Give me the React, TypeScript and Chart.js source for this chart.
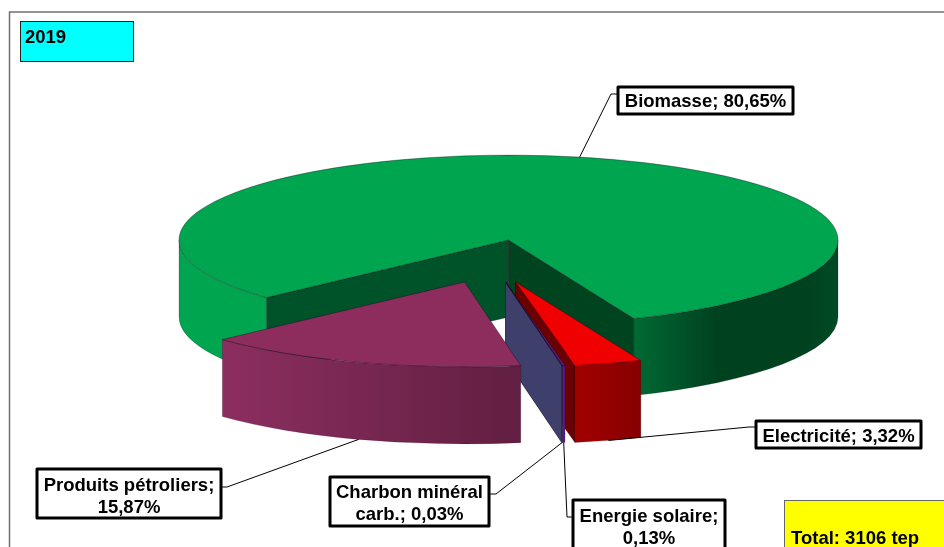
import React, { useEffect, useRef } from "react";
import { Chart, registerables } from "chart.js";

Chart.register(...registerables);

// Final-energy shares for 2019, in percent.
const categories = ["Biomasse", "Electricité", "Energie solaire", "Charbon minéral carb.", "Produits pétroliers"];
const shares = [80.65, 3.32, 0.13, 0.03, 15.87];
const yearLabel = "2019";
const totalLabel = "Total: 3106 tep";

const topColors = ["#00a54f", "#f00000", "#5a1a86", "#3f3f6b", "#8c2d5e"];

// Wall shading, one left-to-right ramp per visible stretch of each slice's rim.
const wallRamps = [
  [
    [[0, "#00a54f"], [1, "#00a54f"]],
    [[0, "#006a33"], [0.4, "#004220"], [0.85, "#004220"], [1, "#004a25"]],
  ],
  [[[0, "#a30000"], [1, "#870000"]]],
  [[[0, "#5a1a86"], [1, "#5a1a86"]]],
  [[[0, "#3f3f6b"], [1, "#3f3f6b"]]],
  [[[0, "#8c2e60"], [1, "#611f41"]]],
];
const startFaceColors = ["#005229", null, null, null, null];
const endFaceColors = ["#00431f", "#6b0000", "#5a1a86", "#3f3f6b", null];

// Projection of the disc and how far each slice is pulled out of it.
const TILT = 0.2576;
const DEPTH = 77;
const RADIUS = 329.5;
const explode = [[0, 0], [7, 42], [-3, 42], [-3, 42], [-44, 42]];

// Callout boxes: rectangle, first baseline, and the leader's knee.
const callouts = [
  { x: 618, y: 87, w: 175, h: 27, base: 107, knee: [[618, 94], [611, 94]], onTop: true },
  { x: 756, y: 421, w: 165, h: 27, base: 442, knee: [[756, 427], [749, 427]] },
  { x: 573, y: 500, w: 152, h: 60, base: 522, knee: [[573, 517], [567, 517]] },
  { x: 330, y: 477, w: 159, h: 49, base: 498, knee: [[489, 494], [496, 494]] },
  { x: 37, y: 469, w: 184, h: 49, base: 491, knee: [[221, 487], [227, 487]] },
];

const FONT = 'bold 18.5px "Liberation Sans", Arial, sans-serif';
const LINE_HEIGHT = 22;

const formatShare = (v: number) => v.toFixed(2).replace(".", ",") + "%";

function wrapText(ctx: CanvasRenderingContext2D, text: string, maxWidth: number) {
  const lines: string[] = [];
  let line = "";
  for (const word of text.split(" ")) {
    const next = line ? line + " " + word : word;
    if (line && ctx.measureText(next).width > maxWidth) {
      lines.push(line);
      line = word;
    } else {
      line = next;
    }
  }
  lines.push(line);
  return lines;
}

function visibleRim(start: number, end: number) {
  const tau = Math.PI * 2;
  const base = Math.floor(start / tau) * tau;
  const a = start - base;
  const b = end - base;
  const out: [number, number][] = [];
  for (const [lo, hi] of [[0, Math.PI], [tau, tau + Math.PI]]) {
    const s = Math.max(a, lo);
    const e = Math.min(b, hi);
    if (e > s) out.push([s, e]);
  }
  return out;
}

// Draws the pie's arcs as an exploded, extruded disc seen at an angle.
const tiltedPie = {
  id: "tiltedPie",
  beforeDatasetDraw(chart: any) {
    const ctx: CanvasRenderingContext2D = chart.ctx;
    const arcs = chart.getDatasetMeta(0).data;
    arcs.forEach((arc: any, i: number) => {
      const { x, y, startAngle, endAngle, outerRadius: r } = arc.getProps(
        ["x", "y", "startAngle", "endAngle", "outerRadius"],
        true
      );
      const cx = x + explode[i][0];
      const cy = y + explode[i][1];
      const ry = r * TILT;

      ctx.save();
      ctx.lineWidth = 0.7;
      ctx.lineJoin = "round";
      ctx.strokeStyle = "rgba(20,0,20,0.5)";

      const cutFace = (angle: number, color: string | null) => {
        if (!color) return;
        const px = cx + r * Math.cos(angle);
        const py = cy + ry * Math.sin(angle);
        ctx.beginPath();
        ctx.moveTo(cx, cy);
        ctx.lineTo(px, py);
        ctx.lineTo(px, py + DEPTH);
        ctx.lineTo(cx, cy + DEPTH);
        ctx.closePath();
        ctx.fillStyle = color;
        ctx.fill();
        ctx.stroke();
      };
      cutFace(startAngle, startFaceColors[i]);
      cutFace(endAngle, endFaceColors[i]);

      visibleRim(startAngle, endAngle).forEach(([a, b], n) => {
        const xa = cx + r * Math.cos(a);
        const xb = cx + r * Math.cos(b);
        const grad = ctx.createLinearGradient(Math.min(xa, xb), 0, Math.max(xa, xb), 0);
        const ramp = wallRamps[i][n] || wallRamps[i][0];
        ramp.forEach(([t, c]: any) => grad.addColorStop(t, c));
        ctx.beginPath();
        ctx.ellipse(cx, cy, r, ry, 0, a, b);
        ctx.ellipse(cx, cy + DEPTH, r, ry, 0, b, a, true);
        ctx.closePath();
        ctx.fillStyle = grad;
        ctx.fill();
        ctx.save();
        ctx.strokeStyle = "rgba(20,0,20,0.25)";
        ctx.stroke();
        ctx.restore();
      });

      // Top face: the library's own arc, flattened onto the tilted plane.
      ctx.save();
      ctx.translate(cx, cy);
      ctx.scale(1, TILT);
      ctx.translate(-x, -y);
      arc.draw(ctx);
      ctx.restore();

      ctx.beginPath();
      ctx.moveTo(cx, cy);
      ctx.ellipse(cx, cy, r, ry, 0, startAngle, endAngle);
      ctx.closePath();
      ctx.stroke();
      ctx.restore();
    });
    return false;
  },
  afterDraw(chart: any) {
    const ctx: CanvasRenderingContext2D = chart.ctx;
    const arcs = chart.getDatasetMeta(0).data;
    ctx.save();

    // Outer frame, cut by the page's right and bottom edges.
    ctx.strokeStyle = "#707070";
    ctx.lineWidth = 1.5;
    ctx.beginPath();
    ctx.moveTo(9.5, 547);
    ctx.lineTo(9.5, 12);
    ctx.lineTo(944, 12);
    ctx.stroke();

    // Year tag.
    ctx.fillStyle = "#00ffff";
    ctx.fillRect(20, 21, 114, 41);
    ctx.strokeStyle = "#222";
    ctx.lineWidth = 1;
    ctx.strokeRect(20.5, 21.5, 113, 40);
    ctx.fillStyle = "#000";
    ctx.font = FONT;
    ctx.textAlign = "left";
    ctx.textBaseline = "alphabetic";
    ctx.fillText(yearLabel, 25, 43);

    // Total tag.
    ctx.fillStyle = "#ffff00";
    ctx.fillRect(784, 500, 162, 50);
    ctx.strokeStyle = "#666";
    ctx.strokeRect(784.5, 500.5, 162, 50);
    ctx.fillStyle = "#000";
    ctx.fillText(totalLabel, 791, 544);

    // Callouts with leaders running to each slice's mid-angle on the rim.
    callouts.forEach((box, i) => {
      const { x, y, startAngle, endAngle, outerRadius: r } = arcs[i].getProps(
        ["x", "y", "startAngle", "endAngle", "outerRadius"],
        true
      );
      const mid = (startAngle + endAngle) / 2;
      const tipX = x + explode[i][0] + r * Math.cos(mid);
      const tipY = y + explode[i][1] + r * TILT * Math.sin(mid) + (box.onTop ? 0 : DEPTH);

      ctx.strokeStyle = "#000";
      ctx.lineWidth = 1;
      ctx.beginPath();
      ctx.moveTo(box.knee[0][0], box.knee[0][1]);
      ctx.lineTo(box.knee[1][0], box.knee[1][1]);
      ctx.lineTo(tipX, tipY);
      ctx.stroke();

      ctx.fillStyle = "#fff";
      ctx.fillRect(box.x, box.y, box.w, box.h);
      ctx.strokeStyle = "#000";
      ctx.lineWidth = 3;
      ctx.lineJoin = "round";
      ctx.strokeRect(box.x, box.y, box.w, box.h);

      ctx.fillStyle = "#000";
      ctx.font = FONT;
      ctx.textAlign = "center";
      const text = `${categories[i]}; ${formatShare(shares[i])}`;
      wrapText(ctx, text, box.w - 4).forEach((line, n) => {
        ctx.fillText(line, box.x + box.w / 2, box.base + n * LINE_HEIGHT);
      });
    });
    ctx.restore();
  },
};

export default function App() {
  const canvasRef = useRef<HTMLCanvasElement>(null);

  useEffect(() => {
    document.body.style.margin = "0";
    document.body.style.overflow = "hidden";
    const chart = new Chart(canvasRef.current as HTMLCanvasElement, {
      type: "pie",
      data: {
        labels: categories,
        datasets: [{ data: shares, backgroundColor: topColors, borderWidth: 0 }],
      },
      options: {
        responsive: false,
        animation: false,
        rotation: 227.3,
        radius: RADIUS,
        layout: { padding: { left: 73, bottom: 67 } },
        plugins: { legend: { display: false }, tooltip: { enabled: false } },
      },
      plugins: [tiltedPie],
    } as any);
    return () => chart.destroy();
  }, []);

  return (
    <div style={{ width: 944, height: 547, background: "#fff", overflow: "hidden" }}>
      <canvas ref={canvasRef} width={944} height={547} style={{ display: "block" }} />
    </div>
  );
}
